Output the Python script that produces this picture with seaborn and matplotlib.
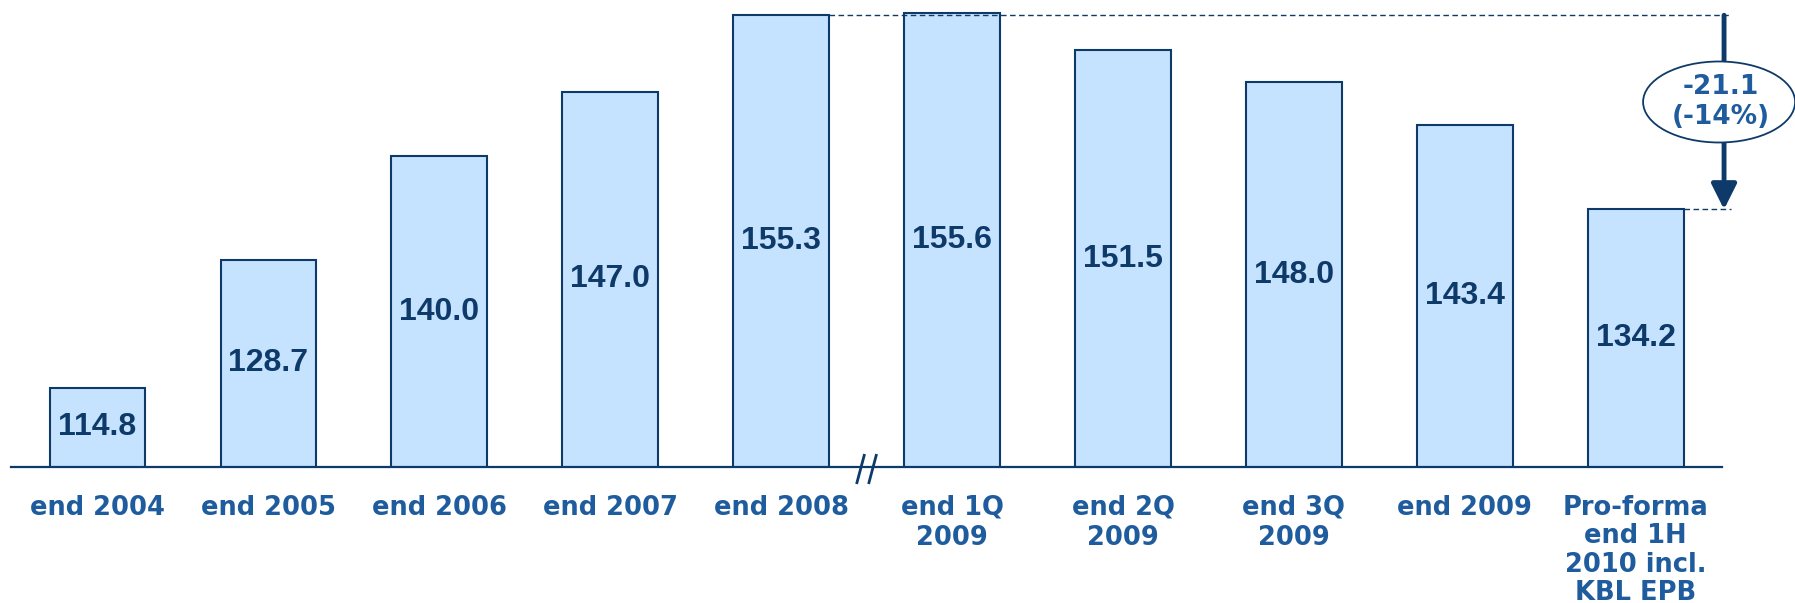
#!/usr/bin/env python3
"""
Bar chart of year-end / quarter-end totals with an axis break and a drop annotation
"""

import matplotlib
matplotlib.use('Agg')
import matplotlib.pyplot as plt
from matplotlib.patches import Ellipse
import seaborn as sns

# Data
categories = ['end 2004', 'end 2005', 'end 2006', 'end 2007', 'end 2008',
              'end 1Q\n2009', 'end 2Q\n2009', 'end 3Q\n2009', 'end 2009',
              'Pro-forma\nend 1H\n2010 incl.\nKBL EPB']
values = [114.8, 128.7, 140.0, 147.0, 155.3, 155.6, 151.5, 148.0, 143.4, 134.2]
drop_label = '-21.1\n(-14%)'

# Colours
BAR_FILL = '#C5E2FF'
NAVY = '#0E3A6A'
LABEL_BLUE = '#1F5C9E'

sns.set_style("white")

fig = plt.figure(figsize=(17.95, 6.03), dpi=100)
ax = fig.add_axes([11 / 1795, 1 - 467 / 603, (1722 - 11) / 1795, 467 / 603])

sns.barplot(x=list(range(len(values))), y=values, color=BAR_FILL, saturation=1,
            edgecolor=NAVY, linewidth=1.5, width=0.56, ax=ax)

y_bottom, y_top = 106.2, 156.96
ax.set_ylim(y_bottom, y_top)
ax.set_xlim(-0.506, 9.505)

# Value labels, centred in the visible part of each bar
for i, v in enumerate(values):
    ax.text(i, (y_bottom + v) / 2, f'{v:.1f}', ha='center', va='center',
            fontsize=23, fontweight='bold', color=NAVY, family='Liberation Sans')

# Axis cosmetics
for side in ['top', 'left', 'right']:
    ax.spines[side].set_visible(False)
ax.spines['bottom'].set_color(NAVY)
ax.spines['bottom'].set_linewidth(1.6)
ax.set_yticks([])
ax.set_xticks(range(len(categories)))
ax.set_xticklabels(categories, fontsize=18.5, fontweight='bold', color=LABEL_BLUE,
                   family='DejaVu Sans', linespacing=1.2)
ax.get_xticklabels()[-1].set_linespacing(1.12)
ax.tick_params(axis='x', length=0, pad=20)
ax.set_xlabel('')
ax.set_ylabel('')

# Axis break marks between end 2008 and end 1Q 2009
px = 1 / 170.9          # one pixel in data-x units
py = 1 / 9.2            # one pixel in data-y units
for dx in [-6, 6]:
    ax.plot([4.5 + (dx - 4) * px, 4.5 + (dx + 4) * px],
            [y_bottom - 17 * py, y_bottom + 13 * py],
            color=NAVY, lw=2, clip_on=False, solid_capstyle='butt')

# Dashed reference lines and drop arrow
peak, last = values[4], values[-1]
arrow_x = 9.517
ax.plot([4 + 0.28, arrow_x + 0.04], [peak, peak], color=NAVY, lw=1,
        dashes=(4, 2.5), clip_on=False, zorder=5)
ax.plot([9 + 0.28, arrow_x + 0.04], [last, last], color=NAVY, lw=1,
        dashes=(4, 2.5), clip_on=False, zorder=5)
ax.annotate('', xy=(arrow_x, last), xytext=(arrow_x, peak),
            arrowprops=dict(arrowstyle='-|>,head_length=1.1,head_width=0.55',
                            lw=3.5, color=NAVY, shrinkA=0, shrinkB=0,
                            mutation_scale=14),
            annotation_clip=False, zorder=6)

ell_y = y_bottom + (467 - 102) * py
ell = Ellipse((9.488, ell_y), width=152 * px, height=81 * py, facecolor='white',
              edgecolor=NAVY, lw=1.3, clip_on=False, zorder=7)
ax.add_patch(ell)
ax.text(9.5, ell_y, drop_label, ha='center', va='center', fontsize=19,
        fontweight='bold', color=LABEL_BLUE, family='DejaVu Sans',
        linespacing=1.2, zorder=8, clip_on=False)

plt.savefig('out.png', dpi=100)
plt.close()
